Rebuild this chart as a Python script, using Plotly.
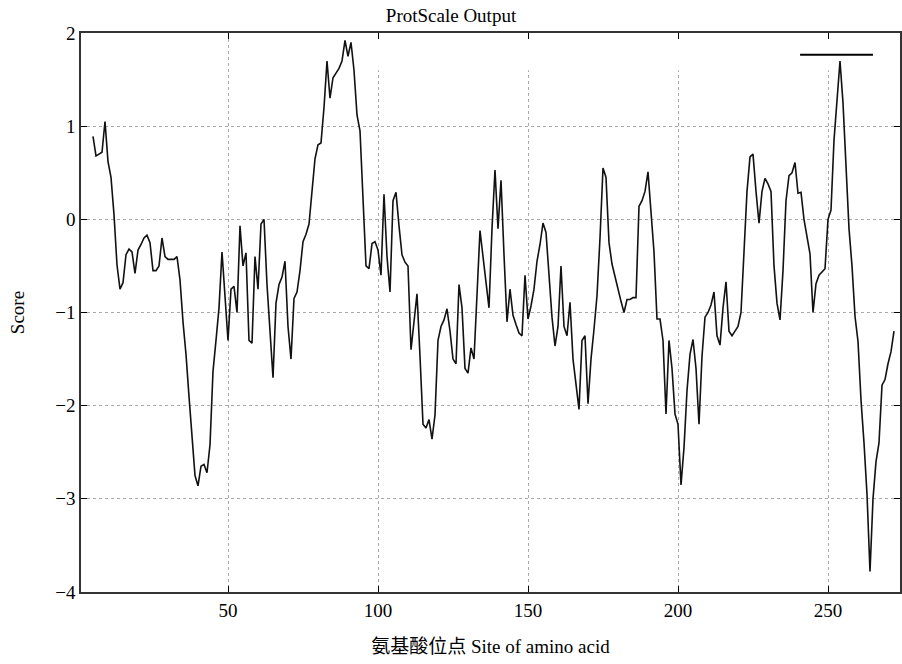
import plotly.graph_objects as go

# Sliding-window positions (window centres)
positions = list(range(5, 273))

scores = [
    # 5-14
    0.89, 0.68, 0.70, 0.72, 1.05, 0.62, 0.45, 0.05, -0.49, -0.75,
    # 15-24
    -0.68, -0.38, -0.32, -0.35, -0.58, -0.33, -0.27, -0.20, -0.17, -0.25,
    # 25-34
    -0.55, -0.55, -0.50, -0.20, -0.40, -0.43, -0.43, -0.43, -0.40, -0.65,
    # 35-44
    -1.10, -1.45, -1.90, -2.37, -2.75, -2.86, -2.65, -2.63, -2.72, -2.42,
    # 45-54
    -1.63, -1.30, -0.95, -0.35, -0.80, -1.30, -0.75, -0.72, -1.00, -0.07,
    # 55-64
    -0.50, -0.36, -1.30, -1.33, -0.40, -0.75, -0.05, 0.00, -0.70, -1.22,
    # 65-74
    -1.70, -0.90, -0.70, -0.62, -0.45, -1.15, -1.50, -0.85, -0.78, -0.55,
    # 75-84
    -0.24, -0.16, -0.05, 0.30, 0.65, 0.80, 0.82, 1.20, 1.70, 1.30,
    # 85-94
    1.52, 1.57, 1.62, 1.70, 1.92, 1.75, 1.90, 1.60, 1.12, 0.95,
    # 95-104
    0.30, -0.50, -0.53, -0.26, -0.24, -0.33, -0.60, 0.27, -0.40, -0.78,
    # 105-114
    0.20, 0.29, -0.07, -0.38, -0.46, -0.50, -1.40, -1.10, -0.80, -1.47,
    # 115-124
    -2.20, -2.24, -2.15, -2.36, -2.10, -1.30, -1.15, -1.08, -0.96, -1.20,
    # 125-134
    -1.50, -1.55, -0.70, -0.95, -1.60, -1.65, -1.38, -1.50, -0.80, -0.12,
    # 135-144
    -0.40, -0.70, -0.95, -0.10, 0.53, -0.10, 0.42, -0.38, -1.10, -0.75,
    # 145-154
    -1.03, -1.13, -1.22, -1.25, -0.60, -1.07, -0.93, -0.75, -0.45, -0.27,
    # 155-164
    -0.04, -0.14, -0.60, -1.05, -1.36, -1.15, -0.50, -1.15, -1.25, -0.89,
    # 165-174
    -1.50, -1.80, -2.04, -1.30, -1.25, -1.98, -1.50, -1.18, -0.82, -0.20,
    # 175-184
    0.55, 0.45, -0.25, -0.48, -0.62, -0.75, -0.88, -1.00, -0.86, -0.86,
    # 185-194
    -0.84, -0.84, 0.14, 0.20, 0.30, 0.51, 0.05, -0.35, -1.07, -1.07,
    # 195-204
    -1.30, -2.09, -1.30, -1.60, -2.09, -2.20, -2.85, -2.45, -1.84, -1.45,
    # 205-214
    -1.29, -1.60, -2.20, -1.47, -1.05, -1.00, -0.92, -0.78, -1.25, -1.35,
    # 215-224
    -0.95, -0.67, -1.20, -1.25, -1.20, -1.15, -1.00, -0.40, 0.30, 0.67,
    # 225-234
    0.70, 0.30, -0.04, 0.30, 0.44, 0.38, 0.30, -0.50, -0.90, -1.08,
    # 235-244
    -0.55, 0.20, 0.47, 0.50, 0.61, 0.28, 0.29, 0.00, -0.18, -0.37,
    # 245-254
    -1.00, -0.69, -0.60, -0.57, -0.53, 0.00, 0.10, 0.85, 1.30, 1.70,
    # 255-264
    1.25, 0.60, -0.10, -0.50, -1.04, -1.31, -1.94, -2.40, -2.95, -3.78,
    # 265-272
    -3.00, -2.60, -2.40, -1.78, -1.72, -1.55, -1.42, -1.20,
]

x_ticks = [50, 100, 150, 200, 250]
y_ticks = [-4, -3, -2, -1, 0, 1, 2]
y_tick_labels = ["\u22124", "\u22123", "\u22122", "\u22121", "0", "1", "2"]

title_text = "ProtScale Output"
x_title = "氨基酸位点 Site of amino acid"
y_title = "Score"

FONT = "Liberation Serif, Times New Roman, Noto Sans CJK SC, serif"

fig = go.Figure()
fig.add_trace(go.Scatter(
    x=positions, y=scores, mode="lines",
    line=dict(color="#111111", width=1.6),
    showlegend=False, hoverinfo="x+y",
))

# gnuplot-style key sample line (top-right) and cleared key area
fig.add_shape(type="rect", xref="x", yref="y", x0=62, x1=274, y0=1.6, y1=2,
              fillcolor="white", line=dict(width=0), layer="between")
fig.add_shape(type="line", xref="paper", yref="paper", x0=0.878, x1=0.967,
              y0=0.961, y1=0.961, line=dict(color="black", width=2))

fig.update_layout(
    width=902, height=664,
    margin=dict(l=81, r=2, t=33, b=72, autoexpand=False),
    paper_bgcolor="white", plot_bgcolor="white",
    font=dict(family=FONT, size=19, color="black"),
    title=dict(text=title_text, x=0.5, xanchor="center", y=0.977, yanchor="middle",
               font=dict(family=FONT, size=19, color="black"), automargin=False),
    xaxis=dict(
        range=[1, 274], tickmode="array", tickvals=x_ticks,
        ticks="inside", ticklen=6, tickcolor="black",
        showline=True, linecolor="#333333", linewidth=1.5, mirror="ticks",
        showgrid=True, gridcolor="#aaaaaa", griddash="dot", gridwidth=1,
        zeroline=False, automargin=False,
        title=dict(text=x_title, standoff=20, font=dict(family=FONT, size=19)),
        tickfont=dict(family=FONT, size=19),
    ),
    yaxis=dict(
        range=[-4, 2], tickmode="array", tickvals=y_ticks, ticktext=y_tick_labels,
        ticks="inside", ticklen=6, tickcolor="black",
        showline=True, linecolor="#333333", linewidth=1.5, mirror="ticks",
        showgrid=True, gridcolor="#aaaaaa", griddash="dot", gridwidth=1,
        zeroline=False, automargin=False,
        title=dict(text=y_title, standoff=26, font=dict(family=FONT, size=19)),
        tickfont=dict(family=FONT, size=19),
    ),
)

fig.write_html(
    "out.html",
    config={"displayModeBar": False},
    post_script="document.body.style.margin='0px';document.body.style.overflow='hidden';",
)
